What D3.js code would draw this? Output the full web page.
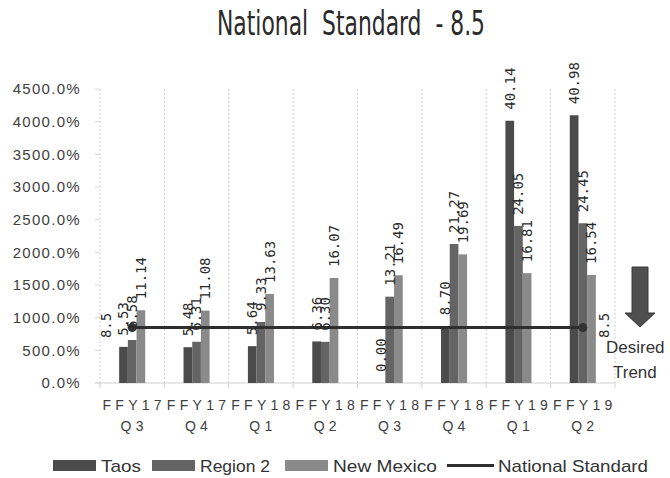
<!DOCTYPE html>
<html><head><meta charset="utf-8">
<script src="https://cdn.jsdelivr.net/npm/d3@7/dist/d3.min.js"></script>
<style>body{margin:0;background:#fff}svg{display:block}</style>
</head><body><svg id="c" width="670" height="478"></svg>
<script>
const categories = ["FFY17|Q3","FFY17|Q4","FFY18|Q1","FFY18|Q2","FFY18|Q3","FFY18|Q4","FFY19|Q1","FFY19|Q2"];
const taos = [5.53, 5.48, 5.64, 6.36, 0.00, 8.70, 40.14, 40.98];
const region2 = [6.58, 6.31, 9.33, 6.30, 13.21, 21.27, 24.05, 24.45];
const newMexico = [11.14, 11.08, 13.63, 16.07, 16.49, 19.69, 16.81, 16.54];
const nationalStandard = [8.5, 8.5, 8.5, 8.5, 8.5, 8.5, 8.5, 8.5];
const yTicks = [0, 500, 1000, 1500, 2000, 2500, 3000, 3500, 4000, 4500];
const seriesNames = ["Taos", "Region 2", "New Mexico"];
const seriesColors = ["#4b4b4b", "#646464", "#8a8a8a"];
const seriesData = [taos, region2, newMexico];

(function () {
const svg = d3.select("#c");
const pL = 100, pR = 615, pT = 89, pB = 383;
const x0 = d3.scaleBand().domain(categories).range([pL, pR]).paddingInner(0.595).paddingOuter(0.2975);
const x1 = d3.scaleBand().domain(seriesNames).range([0, x0.bandwidth()]);
const y = d3.scaleLinear().domain([0, 4500]).range([pB, pT]);
const step = x0.step();

// title
svg.append("text").attr("x", 351).attr("y", 35).attr("text-anchor", "middle")
  .attr("font-family", "'DejaVu Sans Condensed','Liberation Sans Narrow','Liberation Sans',sans-serif")
  .attr("font-size", 34).attr("fill", "#2a2a2a").style("white-space", "pre")
  .attr("textLength", 268).attr("lengthAdjust", "spacingAndGlyphs")
  .text("National  Standard  - 8.5");

// vertical gridlines
const bounds = d3.range(categories.length + 1).map(i => pL + i * step);
svg.append("g").selectAll("line").data(bounds).join("line")
  .attr("x1", d => d).attr("x2", d => d).attr("y1", pT).attr("y2", pB)
  .attr("stroke", "#cfcfcf").attr("stroke-dasharray", "2,2");
// category ticks
svg.append("g").selectAll("line").data(bounds).join("line")
  .attr("x1", d => d).attr("x2", d => d).attr("y1", pB).attr("y2", pB + 5)
  .attr("stroke", "#d0d0d0");
// baseline
svg.append("line").attr("x1", pL - 5).attr("x2", pR).attr("y1", pB).attr("y2", pB)
  .attr("stroke", "#d0d0d0");

// y axis labels + ticks
const yg = svg.append("g");
yg.selectAll("line").data(yTicks).join("line")
  .attr("x1", pL - 5).attr("x2", pL).attr("y1", d => y(d)).attr("y2", d => y(d))
  .attr("stroke", "#d8d8d8");
yg.selectAll("text").data(yTicks).join("text")
  .attr("x", 81).attr("y", d => y(d)).attr("dy", "0.36em").attr("text-anchor", "end")
  .attr("font-family", "'Liberation Sans',Arial,sans-serif").attr("font-size", 15)
  .attr("letter-spacing", 1.3).attr("fill", "#404040")
  .text(d => d3.format(".1f")(d) + "%");

// x axis labels
const xg = svg.append("g");
categories.forEach(c => {
  const [a, b] = c.split("|");
  const cx = x0(c) + x0.bandwidth() / 2;
  const t = xg.append("text").attr("text-anchor", "middle")
    .attr("font-family", "'Liberation Sans',Arial,sans-serif").attr("font-size", 14)
    .attr("fill", "#404040").attr("letter-spacing", 4.3);
  t.append("tspan").attr("x", cx + 2).attr("y", 410).text(a);
  t.append("tspan").attr("x", cx + 2).attr("y", 431).text(b);
});

// bars
seriesData.forEach((vals, si) => {
  svg.append("g").selectAll("rect").data(vals).join("rect")
    .attr("x", (d, i) => x0(categories[i]) + x1(seriesNames[si]))
    .attr("width", x1.bandwidth())
    .attr("y", d => y(d * 100))
    .attr("height", d => pB - y(d * 100))
    .attr("fill", seriesColors[si]);
});

// national standard line
const line = d3.line().x((d, i) => x0(categories[i]) + x0.bandwidth() / 2).y(d => y(d * 100));
svg.append("path").datum(nationalStandard).attr("d", line)
  .attr("fill", "none").attr("stroke", "#2e2e2e").attr("stroke-width", 3);
const endIdx = [0, nationalStandard.length - 1];
svg.append("g").selectAll("circle").data(endIdx).join("circle")
  .attr("cx", i => x0(categories[i]) + x0.bandwidth() / 2)
  .attr("cy", i => y(nationalStandard[i] * 100)).attr("r", 4.5).attr("fill", "#333");

// data labels
const lblFont = "'DejaVu Sans Mono',monospace";
seriesData.forEach((vals, si) => {
  svg.append("g").selectAll("text").data(vals).join("text")
    .attr("transform", (d, i) => {
      const cx = x0(categories[i]) + x1(seriesNames[si]) + x1.bandwidth() / 2;
      return `translate(${cx},${y(d * 100) - 11}) rotate(-90)`;
    })
    .attr("dy", "0.35em").attr("font-family", lblFont).attr("font-size", 14)
    .attr("fill", "#2a2a2a").text(d => d3.format(".2f")(d));
});
// national standard end labels
[[0, -26], [nationalStandard.length - 1, 21]].forEach(([i, off]) => {
  const cx = x0(categories[i]) + x0.bandwidth() / 2 + off;
  svg.append("text").attr("transform", `translate(${cx},${y(nationalStandard[i] * 100) - 2}) rotate(-90)`)
    .attr("text-anchor", "middle").attr("dy", "0.35em")
    .attr("font-family", lblFont).attr("font-size", 14).attr("fill", "#2a2a2a")
    .text(nationalStandard[i]);
});

// desired trend arrow
svg.append("path").attr("d", "M632,267 L648,267 L648,313 L655,313 L640,327 L625,313 L632,313 Z")
  .attr("fill", "#4f4f4f").attr("stroke", "#3a3a3a").attr("stroke-width", 1);
svg.append("text").attr("x", 606).attr("y", 353)
  .attr("font-family", "'Liberation Sans',Arial,sans-serif").attr("font-size", 17).attr("fill", "#333")
  .text("Desired");
svg.append("text").attr("x", 613).attr("y", 378)
  .attr("font-family", "'Liberation Sans',Arial,sans-serif").attr("font-size", 17).attr("fill", "#333")
  .text("Trend");

// legend
const lg = svg.append("g").attr("font-family", "'Liberation Sans',Arial,sans-serif").attr("font-size", 17).attr("fill", "#333");
const legendX = [53, 152, 285];
const legendLen = [40, 70, 104];
seriesNames.forEach((n, i) => {
  lg.append("rect").attr("x", legendX[i]).attr("y", 460).attr("width", 43).attr("height", 11).attr("fill", seriesColors[i]);
  lg.append("text").attr("x", legendX[i] + 48).attr("y", 472).attr("textLength", legendLen[i])
    .attr("lengthAdjust", "spacingAndGlyphs").text(n);
});
lg.append("line").attr("x1", 447).attr("x2", 494).attr("y1", 465.5).attr("y2", 465.5).attr("stroke", "#2e2e2e").attr("stroke-width", 3);
lg.append("text").attr("x", 498).attr("y", 472).attr("textLength", 150)
  .attr("lengthAdjust", "spacingAndGlyphs").text("National Standard");
})();
</script></body></html>
